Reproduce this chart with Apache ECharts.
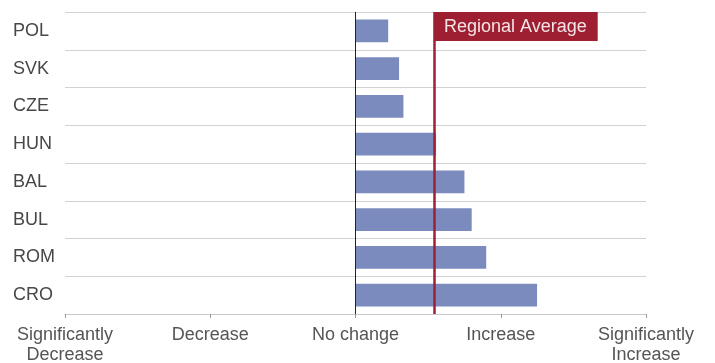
<!DOCTYPE html>
<html>
<head>
<meta charset="utf-8">
<script src="https://cdn.jsdelivr.net/npm/echarts@6/dist/echarts.min.js"></script>
<style>
  html, body { margin: 0; padding: 0; background: #ffffff; }
  #chart { width: 715px; height: 363px; }
</style>
</head>
<body>
<div id="chart"></div>
<script>
// Countries, listed from the bottom row up
const countries = ['CRO', 'ROM', 'BUL', 'BAL', 'HUN', 'CZE', 'SVK', 'POL'];
// Expected change score per country (-2 = significantly decrease ... 2 = significantly increase)
const changeScores = [1.25, 0.90, 0.80, 0.75, 0.555, 0.33, 0.30, 0.225];
// Average score across the region
const regionalAverage = 0.535;
// Text shown under each tick of the score axis
const scaleLabels = ['Significantly\nDecrease', 'Decrease', 'No change', 'Increase', 'Significantly\nIncrease'];
const scaleMin = -2;
const scaleMax = 2;

const FONT = '"Liberation Sans", Arial, sans-serif';

const chart = echarts.init(document.getElementById('chart'), null, { renderer: 'canvas' });

chart.setOption({
  animation: false,
  backgroundColor: '#ffffff',
  grid: {
    left: 65, top: 12, width: 581, height: 302,
    containLabel: false,
    outerBoundsMode: 'none'
  },
  xAxis: {
    type: 'value',
    min: scaleMin,
    max: scaleMax,
    interval: 1,
    axisLine: { show: true, lineStyle: { color: '#c8c8c8', width: 1 } },
    axisTick: { show: true, length: 4, lineStyle: { color: '#9a9a9a' } },
    splitLine: { show: false },
    axisLabel: {
      margin: 11,
      color: '#555555',
      fontFamily: FONT,
      fontSize: 18,
      lineHeight: 20,
      formatter: function (v) {
        return scaleLabels[Math.round(v - scaleMin)];
      }
    }
  },
  yAxis: {
    type: 'category',
    data: countries,
    axisLine: { show: false },
    axisTick: { show: false },
    splitLine: { show: true, lineStyle: { color: '#d2d2d2', width: 1 } },
    axisLabel: {
      align: 'left',
      margin: 52,
      color: '#474747',
      fontFamily: FONT,
      fontSize: 18
    }
  },
  series: [{
    type: 'bar',
    data: changeScores,
    barCategoryGap: '40%',
    itemStyle: { color: '#7b8bbd' },
    markLine: {
      silent: true,
      symbol: ['none', 'none'],
      data: [
        {
          xAxis: 0,
          lineStyle: { color: '#222222', width: 1, type: 'solid' },
          label: { show: false }
        },
        {
          xAxis: regionalAverage,
          lineStyle: { color: '#a11f35', width: 2.5, type: 'solid' },
          label: {
            show: true,
            position: 'end',
            distance: 0,
            align: 'left',
            verticalAlign: 'top',
            formatter: 'Regional Average',
            color: '#f4e4e6',
            backgroundColor: '#9e1e32',
            fontFamily: FONT,
            fontSize: 18,
            lineHeight: 18,
            padding: [6, 11, 5, 10]
          }
        }
      ]
    }
  }]
});
</script>
</body>
</html>
